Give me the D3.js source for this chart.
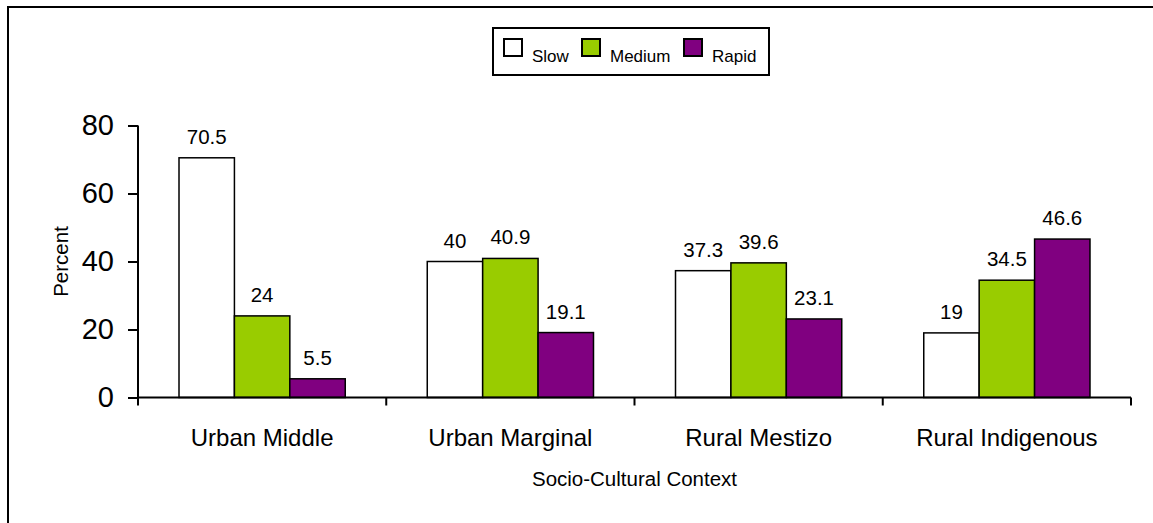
<!DOCTYPE html>
<html><head><meta charset="utf-8">
<script src="https://cdn.jsdelivr.net/npm/d3@7"></script>
<style>
html,body{margin:0;padding:0;background:#fff;}
svg{display:block;font-family:Arial,"Liberation Sans",sans-serif;}
</style></head>
<body><svg id="chart" width="1153" height="523"></svg>
<script>
const categories = ["Urban Middle", "Urban Marginal", "Rural Mestizo", "Rural Indigenous"];
const seriesNames = ["Slow", "Medium", "Rapid"];
const slowValues = [70.5, 40, 37.3, 19];
const mediumValues = [24, 40.9, 39.6, 34.5];
const rapidValues = [5.5, 19.1, 23.1, 46.6];
const yTicks = [0, 20, 40, 60, 80];
const seriesColors = ["#FFFFFF", "#99CC00", "#800080"];
const xTitle = "Socio-Cultural Context";
const yTitle = "Percent";

(function () {
const series = [slowValues, mediumValues, rapidValues];
const svg = d3.select("#chart");

// outer frame (top & left visible)
svg.append("rect").attr("x", 8).attr("y", 7).attr("width", 1160).attr("height", 530)
  .attr("fill", "none").attr("stroke", "#000").attr("stroke-width", 2);

const pL = 138, pR = 1131, pT = 125.5, pB = 397.5;
const x0 = d3.scaleBand().domain(categories).range([pL, pR]).paddingInner(0).paddingOuter(0);
const x1 = d3.scaleBand().domain(seriesNames).range([0, x0.bandwidth()]).paddingOuter(0.74).paddingInner(0);
const y = d3.scaleLinear().domain([0, 80]).range([pB, pT]);

// bars
const g = svg.append("g");
categories.forEach((c, ci) => {
  seriesNames.forEach((s, si) => {
    const v = series[si][ci];
    g.append("rect")
      .attr("x", x0(c) + x1(s))
      .attr("y", y(v))
      .attr("width", x1.bandwidth())
      .attr("height", y(0) - y(v))
      .attr("fill", seriesColors[si])
      .attr("stroke", "#000").attr("stroke-width", 1.5);
    g.append("text")
      .attr("x", x0(c) + x1(s) + x1.bandwidth() / 2)
      .attr("y", y(v) - 14)
      .attr("text-anchor", "middle")
      .attr("font-size", 20.5)
      .attr("fill", "#000")
      .text(v);
  });
});

// y axis
const yAxis = d3.axisLeft(y).tickValues(yTicks).tickSize(10).tickPadding(14).tickFormat(d3.format("d"));
const ya = svg.append("g").attr("transform", `translate(${pL},0)`).call(yAxis);
ya.selectAll("path,line").attr("stroke", "#000").attr("stroke-width", 2);
ya.select(".domain").attr("d", `M0,${pT}V${pB}`);
ya.selectAll("text").attr("font-size", 29).attr("font-family", "Arial,'Liberation Sans',sans-serif").attr("fill", "#000");

// x axis
const xa = svg.append("g").attr("transform", `translate(0,${pB})`);
xa.append("path").attr("d", `M${pL},0H${pR}`).attr("stroke", "#000").attr("stroke-width", 2);
const bounds = categories.map(c => x0(c)).concat([x0(categories[categories.length - 1]) + x0.bandwidth()]);
xa.selectAll("line.tk").data(bounds).enter().append("line")
  .attr("x1", d => d).attr("x2", d => d).attr("y1", 0).attr("y2", 8)
  .attr("stroke", "#000").attr("stroke-width", 2);
xa.selectAll("text.cat").data(categories).enter().append("text")
  .attr("x", d => x0(d) + x0.bandwidth() / 2).attr("y", 48.5)
  .attr("text-anchor", "middle").attr("font-size", 24).attr("fill", "#000")
  .text(d => d);

// axis titles
svg.append("text").attr("x", (pL + pR) / 2).attr("y", 486)
  .attr("text-anchor", "middle").attr("font-size", 20.5).attr("fill", "#000").text(xTitle);
svg.append("text").attr("transform", `translate(68,${(pT + pB) / 2}) rotate(-90)`)
  .attr("text-anchor", "middle").attr("font-size", 20.5).attr("fill", "#000").text(yTitle);

// legend
const lg = svg.append("g");
lg.append("rect").attr("x", 493).attr("y", 28).attr("width", 276).attr("height", 47)
  .attr("fill", "#fff").attr("stroke", "#000").attr("stroke-width", 2);
const legX = [504, 582, 684];
seriesNames.forEach((s, i) => {
  lg.append("rect").attr("x", legX[i]).attr("y", 39).attr("width", 18).attr("height", 17)
    .attr("fill", seriesColors[i]).attr("stroke", "#000").attr("stroke-width", 2);
  lg.append("text").attr("x", legX[i] + 28).attr("y", 62).attr("font-size", 17)
    .attr("fill", "#000").text(s);
});
})();
</script></body></html>
